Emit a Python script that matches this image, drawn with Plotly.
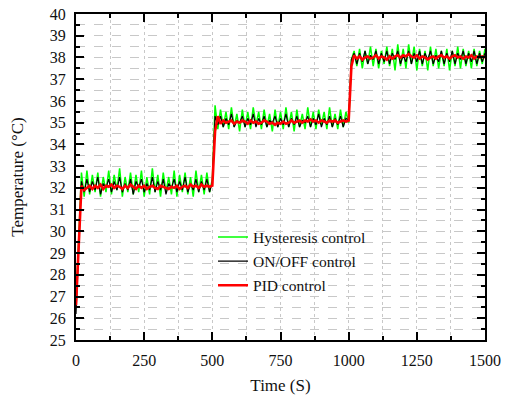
import plotly.graph_objects as go

# time axis (s), sampled every 10 s
time_s = list(range(0, 1501, 10))

hysteresis = [
    26.6, 29.8, 32.7, 31.6,
    32.8, 31.7, 32.6, 31.8, 32.7, 31.6, 32.5, 31.8, 32.8, 31.7,
    32.6, 31.9, 32.9, 31.6, 32.5, 31.8, 32.7, 31.7, 32.6, 31.8,
    32.8, 31.6, 32.5, 31.7, 32.9, 31.8, 32.6, 31.6, 32.7, 31.8,
    32.5, 31.7, 32.8, 31.6, 32.6, 31.8, 32.7, 31.7, 32.5, 31.6,
    32.8, 31.8, 32.6, 31.7, 32.7, 31.8,
    32.4, 35.8, 34.7,
    35.6, 34.8, 35.5, 34.7, 35.7, 34.8, 35.4, 34.6, 35.6, 34.8,
    35.5, 34.7, 35.7, 34.9, 35.5, 34.7, 35.6, 34.8, 35.4, 34.6,
    35.6, 34.8, 35.5, 34.7, 35.7, 34.8, 35.5, 34.6, 35.6, 34.8,
    35.4, 34.7, 35.7, 34.8, 35.5, 34.7, 35.6, 34.9, 35.5, 34.7,
    35.7, 34.8, 35.4, 34.7, 35.6, 34.8, 35.5,
    35.0, 37.9, 38.3,
    37.6, 38.4, 37.5, 38.3, 37.7, 38.5, 37.6, 38.4, 37.5, 38.3,
    37.7, 38.5, 37.6, 38.4, 37.4, 38.6, 37.6, 38.4, 37.5, 38.6,
    37.7, 38.5, 37.4, 38.4, 37.6, 38.3, 37.4, 38.5, 37.6, 38.4,
    37.5, 38.3, 37.6, 38.4, 37.4, 38.3, 37.6, 38.5, 37.5, 38.4,
    37.6, 38.3, 37.5, 38.4, 37.6, 38.3, 37.7, 38.4,
]

onoff = [
    26.2, 29.0, 32.3, 31.8,
    32.4, 31.8, 32.3, 31.9, 32.5, 31.7, 32.2, 32.0, 32.4, 31.8,
    32.3, 31.9, 32.5, 31.8, 32.2, 31.9, 32.4, 31.7, 32.3, 32.0,
    32.4, 31.8, 32.2, 31.9, 32.5, 31.8, 32.3, 31.9, 32.4, 31.7,
    32.2, 32.0, 32.4, 31.8, 32.3, 31.9, 32.5, 31.8, 32.2, 31.9,
    32.4, 31.8, 32.3, 31.9, 32.4, 31.8,
    32.3, 35.3, 34.9,
    35.3, 34.8, 35.2, 34.9, 35.4, 34.8, 35.1, 35.0, 35.3, 34.8,
    35.2, 34.9, 35.4, 34.8, 35.2, 34.9, 35.3, 34.8, 35.1, 35.0,
    35.3, 34.8, 35.2, 34.9, 35.4, 34.8, 35.2, 34.9, 35.3, 34.8,
    35.1, 35.0, 35.3, 34.8, 35.2, 34.9, 35.4, 34.8, 35.2, 34.9,
    35.3, 34.8, 35.2, 34.9, 35.3, 34.8, 35.2,
    35.1, 37.9, 38.2,
    37.7, 38.2, 37.8, 38.3, 37.7, 38.1, 37.9, 38.3, 37.7, 38.2,
    37.8, 38.3, 37.7, 38.2, 37.9, 38.3, 37.7, 38.1, 37.8, 38.3,
    37.7, 38.2, 37.8, 38.3, 37.7, 38.2, 37.9, 38.3, 37.7, 38.1,
    37.8, 38.3, 37.7, 38.2, 37.8, 38.3, 37.7, 38.2, 37.9, 38.3,
    37.7, 38.2, 37.8, 38.3, 37.7, 38.2, 37.8, 38.2,
]

pid = [
    26.6, 29.3, 32.1, 31.9,
    32.0, 32.1, 31.95, 32.1, 32.0, 32.15, 31.95, 32.1, 32.05, 32.15,
    32.0, 32.1, 32.05, 31.95, 32.1, 32.0, 32.15, 32.05, 31.95, 32.1,
    32.0, 32.1, 31.95, 32.05, 32.1, 32.0, 31.95, 32.1, 32.05, 32.0,
    31.95, 32.05, 32.0, 32.1, 31.95, 32.05, 32.1, 32.0, 32.15, 32.05,
    32.1, 32.0, 32.15, 32.05, 32.1, 32.05,
    32.1, 34.6, 35.3,
    34.95, 35.1, 35.0, 35.05, 35.1, 34.95, 35.05, 35.0, 35.1, 35.05,
    34.95, 35.1, 35.0, 35.05, 34.95, 35.0, 35.1, 35.05, 34.95, 35.0,
    34.9, 35.0, 34.95, 35.05, 34.95, 35.0, 35.1, 35.0, 35.05, 35.1,
    35.0, 35.1, 35.05, 35.15, 35.05, 35.1, 35.0, 35.1, 35.05, 35.0,
    35.1, 35.05, 35.1, 35.0, 35.05, 35.1, 35.05,
    35.1, 37.6, 38.1,
    37.95, 38.05, 37.9, 38.0, 38.05, 37.95, 38.0, 38.1, 37.95, 38.05,
    38.0, 37.9, 38.05, 37.95, 38.05, 38.1, 38.0, 38.1, 38.05, 38.15,
    38.05, 38.0, 38.1, 37.95, 38.05, 38.0, 37.9, 38.0, 38.05, 37.95,
    38.05, 38.1, 38.0, 38.05, 37.95, 38.05, 38.1, 38.0, 38.05, 37.95,
    38.05, 38.0, 38.1, 37.95, 38.05, 38.0, 38.05, 38.0,
]

x_ticks = [0, 250, 500, 750, 1000, 1250, 1500]
y_ticks = list(range(25, 41))

FONT = "Liberation Serif"

fig = go.Figure()
fig.add_trace(go.Scatter(x=time_s, y=hysteresis, mode="lines", name="Hysteresis control",
                         line=dict(color="#00ff00", width=1.5), legendgroup="a"))
fig.add_trace(go.Scatter(x=time_s, y=onoff, mode="lines", name="ON/OFF control",
                         line=dict(color="#000000", width=1.2), legendgroup="b"))
fig.add_trace(go.Scatter(x=time_s, y=pid, mode="lines", name="PID control",
                         line=dict(color="#ff0000", width=2.6), legendgroup="c"))

grid_col = "#c8c8c8"
fig.update_layout(
    width=505, height=396,
    margin=dict(l=76, r=20, t=14, b=56, autoexpand=False),
    paper_bgcolor="white", plot_bgcolor="white",
    font=dict(family=FONT, size=16, color="#111"),
    showlegend=True,
    legend=dict(x=0.335, y=0.367, xanchor="left", yanchor="top",
                bgcolor="rgba(0,0,0,0)", font=dict(size=15.5, family=FONT, color="#111"),
                tracegroupgap=1, traceorder="grouped"),
)
fig.update_xaxes(
    range=[0, 1500], tickvals=x_ticks, ticks="inside", ticklen=8, tickwidth=2,
    tickcolor="black", showline=True, linecolor="black", linewidth=2, mirror="ticks",
    showgrid=True, gridcolor=grid_col, griddash="dot", gridwidth=1, zeroline=False,
    automargin=False, ticklabeloverflow="allow", ticklabelstandoff=5,
    minor=dict(dtick=125, ticks="inside", ticklen=4, tickwidth=1.5, tickcolor="black",
               showgrid=True, gridcolor=grid_col, griddash="dot"),
    title=dict(text="Time (S)", font=dict(size=17, family=FONT), standoff=11),
    tickfont=dict(size=16, family=FONT),
)
fig.update_yaxes(
    range=[25, 40], tickvals=y_ticks, ticks="inside", ticklen=8, tickwidth=2,
    tickcolor="black", showline=True, linecolor="black", linewidth=2, mirror="ticks",
    showgrid=True, gridcolor=grid_col, griddash="dash", gridwidth=1, zeroline=False,
    automargin=False, ticklabeloverflow="allow", ticklabelstandoff=5,
    minor=dict(dtick=0.5, ticks="inside", ticklen=4, tickwidth=1.5, tickcolor="black",
               showgrid=True, gridcolor=grid_col, griddash="dash"),
    title=dict(text="Temperature (°C)", font=dict(size=17, family=FONT), standoff=22),
    tickfont=dict(size=16, family=FONT),
)

fig.write_html("out.html", config={"displayModeBar": False},
               post_script="document.body.style.margin='0';")
